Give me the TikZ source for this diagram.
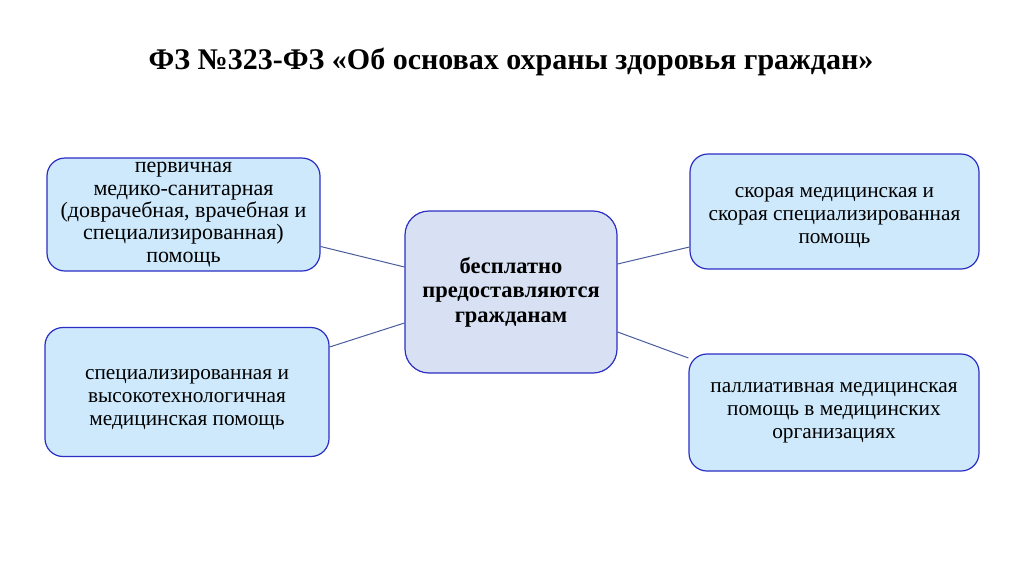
\documentclass[tikz,border=0pt]{standalone}
\usepackage{fontspec}
\setmainfont{Liberation Serif}
\definecolor{boxfill}{HTML}{CDE9FB}
\definecolor{midfill}{HTML}{D8E1F3}
\definecolor{boxline}{HTML}{2B2EC4}
\definecolor{linkline}{HTML}{4A5C9C}
\newcommand{\lift}[1]{\rule{0pt}{#1}}
\begin{document}
\begin{tikzpicture}[x=1pt, y=-1pt,
    box/.style={draw=boxline, fill=boxfill, line width=1.2pt, rounded corners=18pt,
      align=center, inner sep=0pt, font=\fontsize{21.3}{23.2}\selectfont},
    link/.style={draw=linkline, line width=1pt}]
        \useasboundingbox (0,0) rectangle (1024,574);
        \node[font=\bfseries\fontsize{30}{34}\selectfont] (t) at (511,62) {ФЗ №323-ФЗ «Об основах охраны здоровья граждан»};
        \node[box, fill=midfill, rounded corners=24pt, minimum width=212pt, minimum height=162pt,
          font=\bfseries\fontsize{22.5}{24.5}\selectfont] (n0) at (511,292) {бесплатно\\предоставляются\\гражданам};
        \node[box, minimum width=273pt, minimum height=113pt, font=\fontsize{22}{22.3}\selectfont] (n1) at (183.5,214.5) {первичная\\медико-санитарная\\(доврачебная, врачебная и\\специализированная)\\помощь};
        \node[box, minimum width=284pt, minimum height=129pt] (n2) at (187,392) {\lift{25pt}специализированная и\\высокотехнологичная\\медицинская помощь};
        \node[box, minimum width=289pt, minimum height=115pt] (n3) at (834.5,211.5) {\lift{22pt}скорая медицинская и\\скорая специализированная\\помощь};
        \node[box, minimum width=290pt, minimum height=117pt] (n4) at (834,412.5) {паллиативная медицинская\\помощь в медицинских\\организациях};

        \draw[link] ([yshift=-32pt]n1.east) -- ([yshift=25pt]n0.west);
        \draw[link] ([yshift=45pt]n2.east) -- ([yshift=-31pt]n0.west);
        \draw[link] ([yshift=28pt]n0.east) -- ([yshift=-35.5pt]n3.west);
        \draw[link] ([yshift=-40pt]n0.east) -- ([yshift=54.5pt]n4.west);
        \end{tikzpicture}
\end{document}
